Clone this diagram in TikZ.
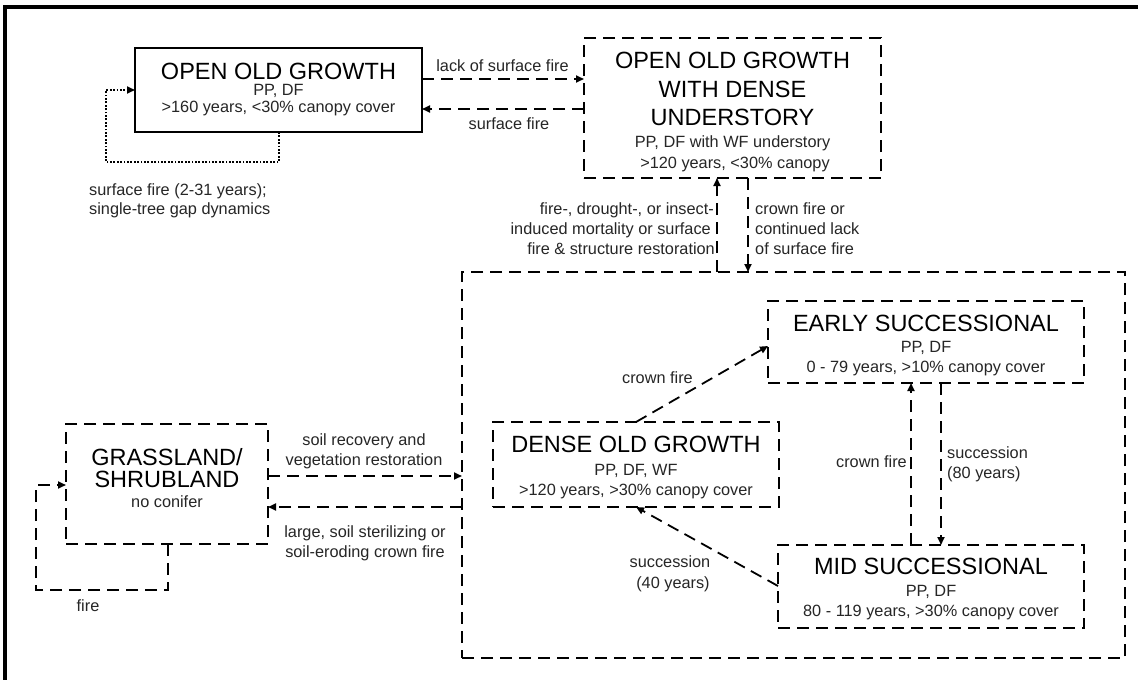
\documentclass[tikz,border=0pt]{standalone}
\usepackage{fontspec}
\setmainfont{Liberation Sans}
\usetikzlibrary{arrows.meta}
\begin{document}
\begin{tikzpicture}[x=1pt,y=-1pt,
  box/.style={draw, inner sep=0pt, outer sep=0pt, line width=1.8pt, dash pattern=on 12pt off 7pt},
  solidbox/.style={draw, inner sep=0pt, outer sep=0pt, line width=1.6pt},
  dashline/.style={line width=1.8pt, dash pattern=on 12pt off 7pt},
  arr/.style={dashline, -{Triangle[length=8pt,width=7pt]}},
  dotarr/.style={line width=1.8pt, dash pattern=on 1.8pt off 1.6pt, -{Triangle[length=8pt,width=7pt]}},
  ttl/.style={anchor=base, inner sep=0pt, font=\fontsize{23.5}{28}\selectfont},
  sub/.style={anchor=base, inner sep=0pt, font=\fontsize{16.3}{19}\selectfont, text=black!85},
]
\useasboundingbox (0,0) rectangle (1138,680);
\fill[white] (0,0) rectangle (1138,680);
% outer frame (top and left)
\draw[line width=4pt, line join=miter] (5,680) -- (5,7) -- (1138,7);

% boxes
\node[solidbox, minimum width=287pt, minimum height=84pt] (oog) at (278.5,90) {};
\node[box, minimum width=297pt, minimum height=140pt] (und) at (732.5,108) {};
\node[box, minimum width=663pt, minimum height=386pt] (big) at (793.5,465) {};
\node[box, minimum width=316pt, minimum height=82pt] (early) at (926,342) {};
\node[box, minimum width=286pt, minimum height=85pt] (dense) at (636,464.5) {};
\node[box, minimum width=306pt, minimum height=83pt] (mid) at (931,586.5) {};
\node[box, minimum width=202pt, minimum height=120pt] (gr) at (167,484) {};

% box texts
\node[ttl] (oog1) at (278.5,79.5) {OPEN OLD GROWTH};
\node[sub] (oog2) at (278.5,95.5) {PP, DF};
\node[sub] (oog3) at (278.5,112.5) {>160 years, <30\% canopy cover};

\node[ttl] (und1) at (732.5,68.6) {OPEN OLD GROWTH};
\node[ttl] (und2) at (732.5,97) {WITH DENSE};
\node[ttl] (und3) at (732.5,125.3) {UNDERSTORY};
\node[sub] (und4) at (732.5,147.4) {PP, DF with WF understory};
\node[sub] (und5) at (735,168) {>120 years, <30\% canopy};

\node[ttl] (den1) at (636,452.5) {DENSE OLD GROWTH};
\node[sub] (den2) at (636,475.7) {PP, DF, WF};
\node[sub] (den3) at (636,495.7) {>120 years, >30\% canopy cover};

\node[ttl] (ear1) at (926,331) {EARLY SUCCESSIONAL};
\node[sub] (ear2) at (926,352.4) {PP, DF};
\node[sub] (ear3) at (926,372.4) {0 - 79 years, >10\% canopy cover};

\node[ttl] (mid1) at (931,574) {MID SUCCESSIONAL};
\node[sub] (mid2) at (931,596.4) {PP, DF};
\node[sub] (mid3) at (931,616.7) {80 - 119 years, >30\% canopy cover};

\node[ttl] (gr1) at (167,465) {GRASSLAND/};
\node[ttl] (gr2) at (167,487.5) {SHRUBLAND};
\node[sub] (gr3) at (167,507) {no conifer};

% connectors
\draw[arr] (oog.east |- 0,79) -- (und.west |- 0,79);
\draw[arr] (und.west |- 0,109) -- (oog.east |- 0,109);
\draw[dotarr] (279,0 |- oog.south) -- (279,162) -| (106,90) -- (oog.west |- 0,90);
\draw[arr] (717,0 |- big.north) -- (717,0 |- und.south);
\draw[arr] (748,0 |- und.south) -- (748,0 |- big.north);
\draw[arr] (gr.east |- 0,476) -- (big.west |- 0,476);
\draw[arr] (big.west |- 0,507) -- (gr.east |- 0,507);
\draw[arr] (168,0 |- gr.south) -- (168,590) -| (36,485) -- (gr.west |- 0,485);
\draw[arr] (dense.north) -- (early.west |- 0,346);
\draw[arr] (911,0 |- mid.north) -- (911,0 |- early.south);
\draw[arr] (941,0 |- early.south) -- (941,0 |- mid.north);
\draw[arr] (mid.west |- 0,586) -- (dense.south);

% labels
\node[sub] (l1) at (502.5,71.5) {lack of surface fire};
\node[sub] (l2) at (509,129.5) {surface fire};
\node[sub, anchor=base west] (l3a) at (89,195.5) {surface fire (2-31 years);};
\node[sub, anchor=base west] (l3b) at (89,214) {single-tree gap dynamics};
\node[sub, anchor=base east] (l4a) at (714,214) {fire-, drought-, or insect-};
\node[sub, anchor=base east] (l4b) at (711,234) {induced mortality or surface};
\node[sub, anchor=base east] (l4c) at (715,254) {fire \& structure restoration};
\node[sub, anchor=base west] (l5a) at (755,214) {crown fire or};
\node[sub, anchor=base west] (l5b) at (755,234) {continued lack};
\node[sub, anchor=base west] (l5c) at (755,254) {of surface fire};
\node[sub] (l6a) at (364,445.5) {soil recovery and};
\node[sub] (l6b) at (364,465.5) {vegetation restoration};
\node[sub] (l7a) at (365,537) {large, soil sterilizing or};
\node[sub] (l7b) at (365,557) {soil-eroding crown fire};
\node[sub] (l8) at (88,611) {fire};
\node[sub, anchor=base east] (l9) at (693,383.5) {crown fire};
\node[sub, anchor=base east] (l10) at (907,467.5) {crown fire};
\node[sub, anchor=base west] (l11a) at (947,458) {succession};
\node[sub, anchor=base west] (l11b) at (947,478.5) {(80 years)};
\node[sub] (l12a) at (670,567) {succession};
\node[sub] (l12b) at (673,588) {(40 years)};
\end{tikzpicture}
\end{document}
